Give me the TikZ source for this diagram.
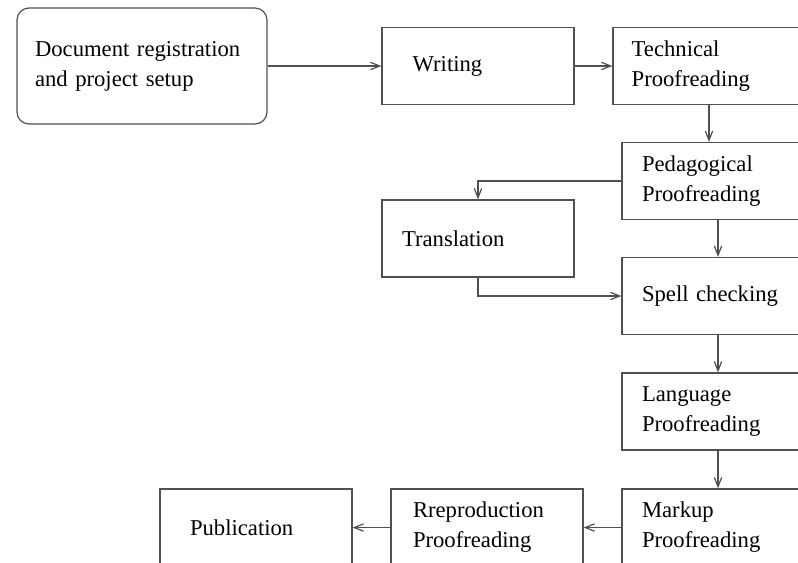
\documentclass[tikz,border=0pt]{standalone}
\usepackage{fontspec}
\setmainfont{Liberation Serif}
\usetikzlibrary{arrows.meta}
\definecolor{linegray}{HTML}{505050}
\begin{document}
\begin{tikzpicture}[x=0.75pt,y=-0.75pt,
  box/.style={draw=linegray, line width=0.9pt, rectangle, minimum height=57.75pt,
    font=\fontsize{17}{22.5}\selectfont, align=left, inner ysep=0pt},
  pad20/.style={inner xsep=15pt, text width=114pt},
  pad30/.style={inner xsep=22.5pt, text width=99pt},
  flow/.style={draw=linegray, line width=0.9pt, -{Straight Barb[length=7pt,width=5.5pt]}}]
\useasboundingbox (0,0) rectangle (798,562);
\clip (0,0) rectangle (798,562);
\node[box, rounded corners=9pt, minimum height=87pt, inner xsep=13.5pt, text width=160.5pt] (doc) at (142,66) {Document registration\\and project setup};
\node[box, inner xsep=23pt, text width=98pt] (writ) at (478,66) {Writing};
\node[box, inner xsep=14pt, text width=116pt] (tech) at (709,66) {Technical\\Proofreading};
\node[box, pad20] (ped) at (718,181) {Pedagogical\\Proofreading};
\node[box, pad20] (trans) at (478,238.5) {Translation};
\node[box, pad20] (spell) at (718,296) {Spell checking};
\node[box, pad20] (lang) at (718,411.5) {Language\\Proofreading};
\node[box, pad20] (mark) at (718,527.5) {Markup\\Proofreading};
\node[box, inner xsep=16.5pt, text width=111pt] (repro) at (487,527.5) {Rreproduction\\Proofreading};
\node[box, pad30] (pub) at (256,527.5) {Publication};
\draw[flow] (doc) -- (writ);
\draw[flow] (writ) -- (tech);
\draw[flow] (tech) -- (tech |- ped.north);
\draw[flow] (ped.west) -| (trans.north);
\draw[flow] (ped) -- (spell);
\draw[flow] (trans.south) |- (spell.west);
\draw[flow] (spell) -- (lang);
\draw[flow] (lang) -- (mark);
\draw[flow] (mark) -- (repro);
\draw[flow] (repro) -- (pub);
\end{tikzpicture}
\end{document}
